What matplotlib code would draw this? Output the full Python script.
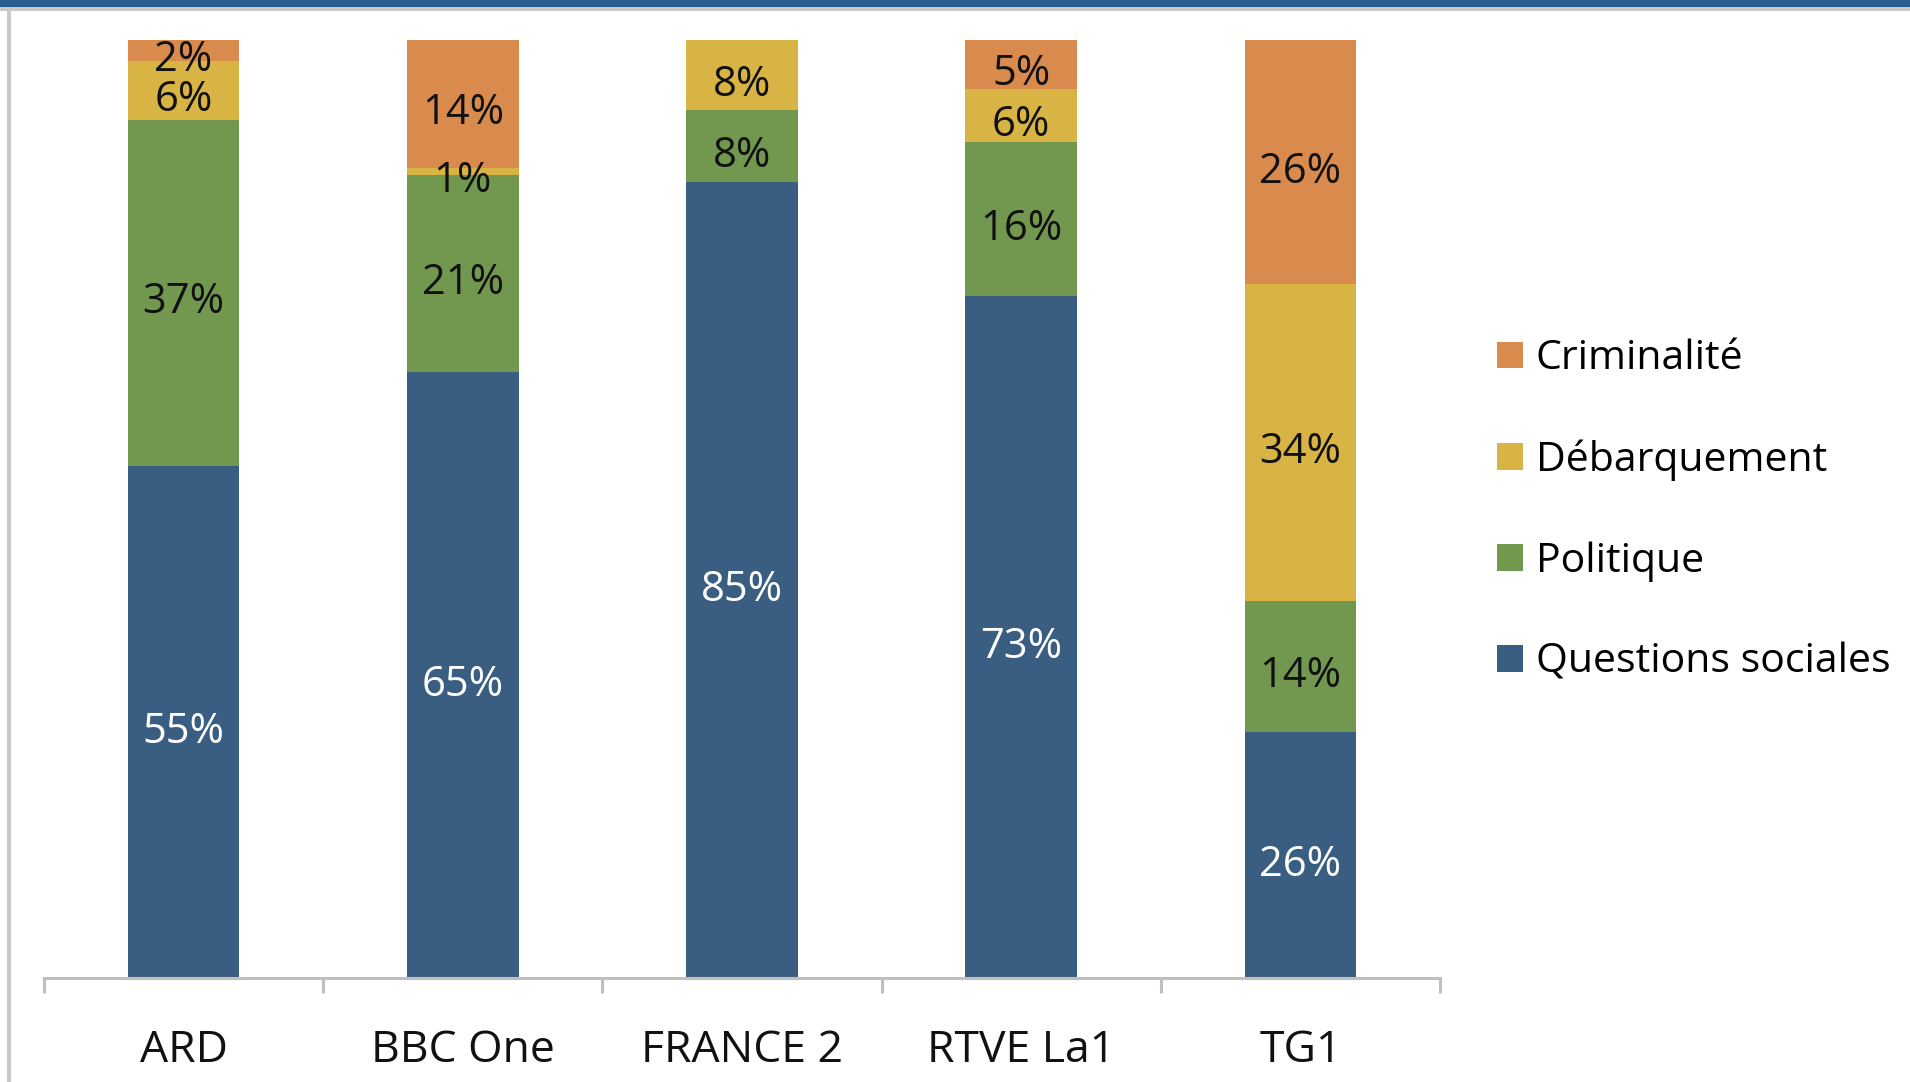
import matplotlib.pyplot as plt
from matplotlib.patches import Rectangle

plt.rcParams['font.family'] = ['Open Sans', 'DejaVu Sans']

# chaines et thèmes (parts en %)
chaines = ["ARD", "BBC One", "FRANCE 2", "RTVE La1", "TG1"]
questions_sociales = [54.6, 64.6, 84.9, 72.7, 26.2]
politique = [36.9, 21.0, 7.6, 16.4, 14.0]
debarquement = [6.3, 0.8, 7.5, 5.7, 33.8]
criminalite = [2.2, 13.6, 0.0, 5.2, 26.0]

series = [
    ("Questions sociales", questions_sociales, "#3a5e82", "white"),
    ("Politique", politique, "#72974f", "#111111"),
    ("Débarquement", debarquement, "#d7b443", "#111111"),
    ("Criminalité", criminalite, "#d98a4d", "#111111"),
]

fig = plt.figure(figsize=(19.1, 10.82), dpi=100)
ax = fig.add_axes([0.023, 0.0961, 0.731, 0.867])

x = list(range(len(chaines)))
totals = [sum(s[1][i] for s in series) for i in x]
bottom = [0.0] * len(chaines)
handles = []
for name, vals, color, tcolor in series:
    pct = [v / t * 100 for v, t in zip(vals, totals)]
    bars = ax.bar(x, pct, width=0.4, bottom=bottom, color=color, label=name,
                  linewidth=0)
    handles.append(bars)
    for xi, b, p, v in zip(x, bottom, pct, vals):
        if v > 0:
            ax.annotate(f"{v:.0f}%", (xi, b + p / 2), xytext=(0, -7),
                        textcoords="offset points", ha="center", va="center",
                        fontsize=30, color=tcolor)
    bottom = [b + p for b, p in zip(bottom, pct)]

ax.set_xlim(-0.5, len(chaines) - 0.5)
ax.set_ylim(0, 100)
ax.set_yticks([])
for s in ["top", "right", "left"]:
    ax.spines[s].set_visible(False)
ax.spines["bottom"].set_color("#bfbfbf")
ax.spines["bottom"].set_linewidth(2.2)

ax.set_xticks(x)
ax.set_xticklabels(chaines, fontsize=32, color="#111111")
ax.tick_params(axis="x", which="major", length=0, pad=36)
ax.set_xticks([i - 0.5 for i in range(len(chaines) + 1)], minor=True)
ax.tick_params(axis="x", which="minor", length=11, width=2.2, color="#bfbfbf")

ax.legend(handles[::-1], [s[0] for s in series][::-1],
          loc="center left", bbox_to_anchor=(0.784, 0.528),
          bbox_transform=fig.transFigure, frameon=False, fontsize=29.5,
          handlelength=0.63, handleheight=0.63, handletextpad=0.3,
          labelspacing=1.47, borderpad=0, borderaxespad=0)

# cadre de la diapositive
fig.add_artist(Rectangle((0, 1 - 7 / 1082), 1, 7 / 1082, transform=fig.transFigure,
                         color="#285d91", linewidth=0))
fig.add_artist(Rectangle((0, 1 - 11 / 1082), 1, 4 / 1082, transform=fig.transFigure,
                         color="#c8c8c8", linewidth=0))
fig.add_artist(Rectangle((7 / 1910, 0), 4 / 1910, 1 - 11 / 1082,
                         transform=fig.transFigure, color="#c8c8c8", linewidth=0))

fig.savefig("out.png", dpi=100)
